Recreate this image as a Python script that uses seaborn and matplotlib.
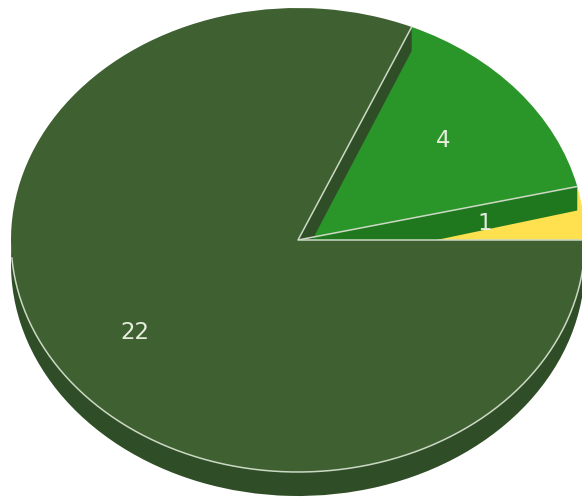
import numpy as np
import matplotlib
matplotlib.use("Agg")
import matplotlib.pyplot as plt
import seaborn as sns

values = [1, 4, 22]
labels = ["1", "4", "22"]
top_colors = ["#FFE14F", "#2A9529", "#3F6031"]
wall_colors = ["#1F781E", "#2F4D27"]
line_color = "#CBD9C4"
text_color = "#E6EDDC"

W, H = 582, 497
CX, CY, RX, RY, DEPTH = 298, 240, 287, 232, 24

sns.set_theme(style="white")
sns.set_palette(top_colors)
fig = plt.figure(figsize=(W / 100, H / 100), dpi=100)
ax = fig.add_axes([0, 0, 1, 1])
d = DEPTH / RY
edges = np.deg2rad(np.cumsum(values) / sum(values) * 360)


def show_only(i):
    return [c if j == i else "none" for j, c in enumerate(top_colors)]


# outer rim of the large slice
rim = ["none", "none", wall_colors[1]]
ax.pie(values, colors=rim, center=(0, -d), radius=1, wedgeprops={"zorder": 1, "linewidth": 0})
# small slices, top surfaces
for i in (0, 1):
    ax.pie(values, colors=show_only(i), radius=1, wedgeprops={"zorder": 2, "linewidth": 0})

# side walls along the slice edges (slightly deeper at the hub, as in the reference)
for ang, col, z, hub in [(edges[0], wall_colors[0], 3, 29 / RY), (edges[1], wall_colors[1], 4, 27 / RY)]:
    x, y = np.cos(ang), np.sin(ang)
    ax.fill([0, x, x, 0], [0, y, y - d, -hub], color=col, lw=0, zorder=z)
ax.plot([0, np.cos(edges[0])], [0, np.sin(edges[0])], color=line_color, lw=1.1, zorder=5)

# large slice on top, with labels at the middle of every slice
wedges, _, autotexts = ax.pie(
    values, colors=show_only(2), radius=1, autopct=lambda p: f"{p * sum(values) / 100:.0f}",
    pctdistance=0.67, wedgeprops={"zorder": 6, "linewidth": 0},
    textprops={"color": text_color, "fontsize": 16.5, "fontfamily": "DejaVu Sans", "zorder": 8},
)
for t, (dx, dy) in zip(autotexts, [(-4, 2), (-2, 0), (-2, 7)]):
    px, py = t.get_position()
    t.set_position((px + dx / RX, py - dy / RY))

# pale outline: both straight edges and the lower part of the arc only
arc = np.linspace(edges[1], 2 * np.pi, 300)
arc = arc[np.sin(arc) < -0.07]
ax.plot(np.cos(arc), np.sin(arc), color=line_color, lw=1.1, zorder=7)
ax.plot([np.cos(edges[1]), 0, 1], [np.sin(edges[1]), 0, 0], color=line_color, lw=1.1, zorder=7)

ax.set_aspect("auto")
ax.set_xlim(-CX / RX, (W - CX) / RX)
ax.set_ylim(-(H - CY) / RY, CY / RY)
ax.axis("off")
fig.savefig("out.png", dpi=100, facecolor="white")
